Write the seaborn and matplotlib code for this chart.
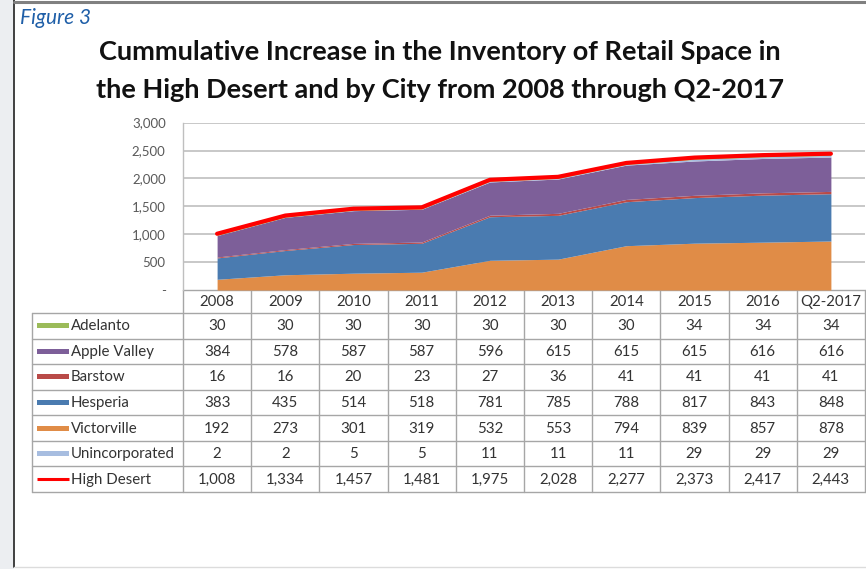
import matplotlib
matplotlib.use("Agg")
import matplotlib.pyplot as plt
import seaborn as sns
import numpy as np
import pandas as pd
from matplotlib.patches import Rectangle

# ---------------- data ----------------
periods = ["2008", "2009", "2010", "2011", "2012", "2013", "2014", "2015", "2016", "Q2-2017"]
adelanto = [30, 30, 30, 30, 30, 30, 30, 34, 34, 34]
apple_valley = [384, 578, 587, 587, 596, 615, 615, 615, 616, 616]
barstow = [16, 16, 20, 23, 27, 36, 41, 41, 41, 41]
hesperia = [383, 435, 514, 518, 781, 785, 788, 817, 843, 848]
victorville = [192, 273, 301, 319, 532, 553, 794, 839, 857, 878]
unincorporated = [2, 2, 5, 5, 11, 11, 11, 29, 29, 29]
high_desert = [1008, 1334, 1457, 1481, 1975, 2028, 2277, 2373, 2417, 2443]

y_ticks = [0, 500, 1000, 1500, 2000, 2500, 3000]
y_tick_labels = ["-", "500", "1,000", "1,500", "2,000", "2,500", "3,000"]

table_rows = ["Adelanto", "Apple Valley", "Barstow", "Hesperia", "Victorville",
              "Unincorporated", "High Desert"]
table_values = [adelanto, apple_valley, barstow, hesperia, victorville,
                unincorporated, high_desert]
row_colors = ["#9bbb59", "#7d5f99", "#b94a48", "#4a7bb0", "#e08c47", "#a7bde0", "#ff0000"]

title_line1 = "Cummulative Increase in the Inventory of Retail Space in"
title_line2 = "the High Desert and by City from 2008 through Q2-2017"
figure_label = "Figure 3"

# ---------------- style ----------------
sns.set_theme(style="white")
plt.rcParams["font.family"] = ["Lato", "DejaVu Sans"]

W, H = 866, 569
fig = plt.figure(figsize=(W / 100, H / 100), dpi=100)

# pixel-space overlay for frame + table
pix = fig.add_axes([0, 0, 1, 1], zorder=0)
pix.set_xlim(0, W)
pix.set_ylim(H, 0)
pix.axis("off")

# page decoration
pix.add_patch(Rectangle((0, 0), 14, H, color="#eceef1", lw=0))
pix.plot([14, 14], [0, 567], color="#404040", lw=1.4)
pix.plot([14, W], [2, 2], color="#808080", lw=2.2)
pix.plot([14, W], [567, 567], color="#dcdcdc", lw=1.0)

pix.text(20, 18, figure_label, color="#1f5fa8", fontsize=15, style="italic",
         va="center", ha="left")
pix.text(440, 52, title_line1, ha="center", va="center", fontsize=19.5,
         fontweight="bold", color="#111111")
pix.text(440, 90, title_line2, ha="center", va="center", fontsize=19.5,
         fontweight="bold", color="#111111")

# ---------------- chart ----------------
x0, x1 = 183, 865
y_zero, y_top = 290, 122.6
ax = fig.add_axes([x0 / W, 1 - y_zero / H, (x1 - x0) / W, (y_zero - y_top) / H], zorder=1)
ax.patch.set_alpha(0)
x = np.arange(len(periods))

stack_series = [victorville, hesperia, barstow, apple_valley, unincorporated, adelanto]
stack_colors = ["#e08c47", "#4a7bb0", "#b94a48", "#7d5f99", "#a7bde0", "#9bbb59"]
ax.stackplot(x, *stack_series, colors=stack_colors, lw=0, zorder=2)

df = pd.DataFrame({"period": x, "total": high_desert})
sns.lineplot(data=df, x="period", y="total", color="#ff0000", lw=3.0, ax=ax, zorder=3)

ax.set_xlim(-0.5, len(periods) - 0.5)
ax.set_ylim(0, 3000)
ax.set_yticks(y_ticks)
ax.set_yticklabels(y_tick_labels, fontsize=9.5, color="#595959")
ax.set_xticks([])
ax.set_xlabel("")
ax.set_ylabel("")
ax.tick_params(axis="y", length=0, pad=12.5)
for yt in y_ticks[1:]:
    ax.axhline(yt, color="#c4c4c4", lw=1.3, zorder=1)
for s in ["top", "right", "bottom"]:
    ax.spines[s].set_visible(False)
ax.spines["left"].set_color("#bfbfbf")
ax.spines["left"].set_linewidth(1.0)

# ---------------- data table ----------------
line_c = "#a6a6a6"
col_w = (x1 - x0) / len(periods)
label_left = 32
hdr_top, hdr_bot, tbl_bot = 290, 313, 492
row_h = (tbl_bot - hdr_bot) / len(table_rows)
text_c = "#333333"
fs = 10.8

pix.plot([x0, x1], [hdr_top, hdr_top], color=line_c, lw=1)
for i in range(len(table_rows) + 1):
    yy = hdr_bot + i * row_h
    pix.plot([label_left, x1], [yy, yy], color=line_c, lw=1)
for j in range(len(periods) + 1):
    xx = x0 + j * col_w
    pix.plot([xx, xx], [hdr_top, tbl_bot], color=line_c, lw=1)
pix.plot([label_left, label_left], [hdr_bot, tbl_bot], color=line_c, lw=1)

for j, p in enumerate(periods):
    pix.text(x0 + (j + 0.5) * col_w, (hdr_top + hdr_bot) / 2 + 0.5, p, ha="center",
             va="center", fontsize=fs, color=text_c)

for i, (name, vals, c) in enumerate(zip(table_rows, table_values, row_colors)):
    yc = hdr_bot + (i + 0.5) * row_h
    if name == "High Desert":
        pix.plot([37, 69], [yc, yc], color=c, lw=2.2, solid_capstyle="butt")
    else:
        pix.add_patch(Rectangle((37, yc - 2.5), 32, 5, color=c, lw=0))
    pix.text(71, yc + 0.5, name, ha="left", va="center", fontsize=fs, color=text_c)
    for j, v in enumerate(vals):
        pix.text(x0 + (j + 0.5) * col_w, yc + 0.5, f"{v:,}", ha="center", va="center",
                 fontsize=fs, color=text_c)

fig.savefig("out.png", dpi=100)
